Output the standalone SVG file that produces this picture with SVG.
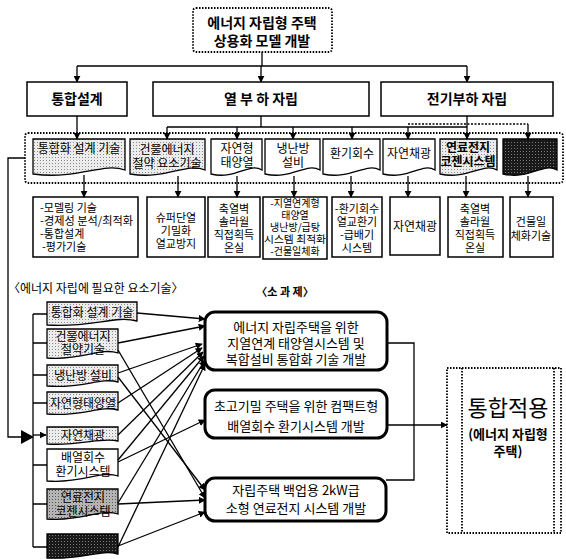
<svg xmlns="http://www.w3.org/2000/svg" width="566" height="559" viewBox="0 0 566 559">
<defs>
<pattern id="dotL" width="3" height="3" patternUnits="userSpaceOnUse"><rect width="3" height="3" fill="#ececec"/><rect x="1" y="1" width="1" height="1" fill="#8a8a8a"/></pattern>
<pattern id="dotM" width="3" height="3" patternUnits="userSpaceOnUse"><rect width="3" height="3" fill="#b4b4b4"/><rect x="1" y="1" width="1" height="1" fill="#555"/></pattern>
<pattern id="dotD" width="3" height="3" patternUnits="userSpaceOnUse"><rect width="3" height="3" fill="#1a1a1a"/><rect x="1" y="1" width="1" height="1" fill="#777"/></pattern>
<marker id="ah" viewBox="0 0 10 10" refX="9" refY="5" markerWidth="7" markerHeight="7" markerUnits="userSpaceOnUse" orient="auto"><path d="M0,0 L10,5 L0,10 Z" fill="#000"/></marker>
</defs>
<style>
text{font-family:"Noto Sans CJK KR","Noto Sans",sans-serif;fill:#000}
.t{font-size:14px;font-weight:bold;text-anchor:middle}
.m{font-size:12px;text-anchor:middle}
.d{font-size:11px;text-anchor:middle}
.dl{font-size:11px;text-anchor:start}
.s{font-size:10px;text-anchor:middle}
.tk{font-size:13px;text-anchor:middle}
.box{fill:#fff;stroke:#000;stroke-width:1.5}
.doc{stroke:#000;stroke-width:1.3}
.task{fill:#fff;stroke:#000;stroke-width:3}
.dot{fill:none;stroke:#000;stroke-width:1.8;stroke-dasharray:1.5 1.5}
.c{fill:none;stroke:#000;stroke-width:1.3}
.a{fill:none;stroke:#000;stroke-width:1.3;marker-end:url(#ah)}
</style>
<rect width="566" height="559" fill="#fff"/>

<g id="title"><rect class="dot" x="193" y="8" width="139" height="44" rx="3"/><text class="t" x="262" y="28">에너지 자립형 주택</text><text class="t" x="262" y="46">상용화 모델 개발</text></g>

<g id="top-integrated"><rect class="box" x="27" y="82" width="100" height="34"/><text class="t" x="77" y="104">통합설계</text></g>
<g id="top-heat"><rect class="box" x="153" y="82" width="216" height="34"/><text class="t" x="261" y="104">열 부 하 자립</text></g>
<g id="top-elec"><rect class="box" x="381" y="82" width="172" height="34"/><text class="t" x="467" y="104">전기부하 자립</text></g>

<g id="container"><rect class="dot" x="25" y="133" width="538" height="50" rx="3" stroke-width="1.5"/></g>

<g id="s1"><path class="doc" fill="url(#dotL)" d="M33,139 H125 V170 C102,162 79,180 33,174 Z"/><text class="m" x="79" y="153">통합화 설계 기술</text></g>
<g id="s2"><path class="doc" fill="url(#dotL)" d="M130,139 H205 V170 C186,162 167,180 130,174 Z"/><text class="m" x="167" y="154">건물에너지</text><text class="m" x="167" y="168">절약 요소기술</text></g>
<g id="s3"><path class="doc" fill="#fff" d="M211,139 H262 V170 C249,162 236,180 211,174 Z"/><text class="m" x="237" y="153">자연형</text><text class="m" x="237" y="167">태양열</text></g>
<g id="s4"><path class="doc" fill="#fff" d="M265,139 H320 V170 C306,162 292,180 265,174 Z"/><text class="m" x="293" y="153">냉난방</text><text class="m" x="293" y="167">설비</text></g>
<g id="s5"><path class="doc" fill="#fff" d="M323,139 H380 V170 C366,162 351,180 323,174 Z"/><text class="m" x="352" y="158">환기회수</text></g>
<g id="s6"><path class="doc" fill="#fff" d="M383,139 H435 V170 C422,162 409,180 383,174 Z"/><text class="m" x="409" y="158">자연채광</text></g>
<g id="s7"><path class="doc" fill="url(#dotL)" d="M440,139 H497 V170 C483,162 468,180 440,174 Z"/><text class="m" x="468" y="152" font-weight="bold">연료전지</text><text class="m" x="468" y="166" font-weight="bold">코젠시스템</text></g>
<g id="s8"><path class="doc" fill="url(#dotD)" d="M503,139 H557 V170 C543,162 530,180 503,174 Z"/></g>

<g id="d1"><rect class="box" x="33" y="197" width="105" height="60"/><text class="dl" x="40" y="212">-모델링 기술</text><text class="dl" x="40" y="225" textLength="93" lengthAdjust="spacingAndGlyphs">-경제성 분석/최적화</text><text class="dl" x="40" y="238">-통합설계</text><text class="dl" x="42" y="251">-평가기술</text></g>
<g id="d2"><rect class="box" x="147" y="197" width="58" height="60"/><text class="d" x="176" y="222">슈퍼단열</text><text class="d" x="176" y="235">기밀화</text><text class="d" x="176" y="248">열교방지</text></g>
<g id="d3"><rect class="box" x="208" y="197" width="52" height="60"/><text class="d" x="234" y="213">축열벽</text><text class="d" x="234" y="226">솔라월</text><text class="d" x="234" y="239">직접획득</text><text class="d" x="234" y="252">온실</text></g>
<g id="d4"><rect class="box" x="263" y="197" width="64" height="62"/><text class="s" x="295" y="207">-지열연계형</text><text class="s" x="295" y="219">태양열</text><text class="s" x="295" y="231">냉난방/급탕</text><text class="s" x="295" y="243" textLength="62" lengthAdjust="spacingAndGlyphs">시스템 최적화</text><text class="s" x="295" y="255">-건물일체화</text></g>
<g id="d5"><rect class="box" x="332" y="197" width="50" height="60"/><text class="d" x="357" y="213">-환기회수</text><text class="d" x="357" y="226">열교환기</text><text class="d" x="357" y="239">-급배기</text><text class="d" x="357" y="252">시스템</text></g>
<g id="d6"><rect class="box" x="390" y="197" width="50" height="58"/><text class="m" x="415" y="231">자연채광</text></g>
<g id="d7"><rect class="box" x="448" y="197" width="55" height="60"/><text class="d" x="475" y="213">축열벽</text><text class="d" x="475" y="226">솔라월</text><text class="d" x="475" y="239">직접획득</text><text class="d" x="475" y="252">온실</text></g>
<g id="d8"><rect class="box" x="510" y="197" width="43" height="60"/><text class="d" x="531" y="226">건물일</text><text class="d" x="531" y="240">체화기술</text></g>

<text id="h-left" x="8" y="293" font-size="12">〈에너지 자립에 필요한 요소기술〉</text>
<text id="h-task" x="285" y="296" font-size="11" font-weight="bold" text-anchor="middle">〈소 과 제〉</text>

<g id="l1"><path class="doc" fill="url(#dotL)" d="M47,302 H137 V321 C115,315 92,328 47,325 Z"/><text class="m" x="92" y="317">통합화 설계 기술</text></g>
<g id="l2"><path class="doc" fill="url(#dotL)" d="M47,329 H118 V353 C100,347 83,361 47,358 Z"/><text class="m" x="83" y="341">건물에너지</text><text class="m" x="83" y="354">절약기술</text></g>
<g id="l3"><path class="doc" fill="url(#dotL)" d="M47,365 H118 V382 C100,377 83,389 47,386 Z"/><text class="m" x="83" y="380">냉난방 설비</text></g>
<g id="l4"><path class="doc" fill="url(#dotL)" d="M47,392 H118 V410 C100,405 83,417 47,414 Z"/><text class="m" x="83" y="408">자연형태양열</text></g>
<g id="l5"><path class="doc" fill="url(#dotL)" d="M47,427 H118 V441 C100,437 83,446 47,444 Z"/><text class="m" x="83" y="440">자연채광</text></g>
<g id="l6"><path class="doc" fill="#fff" d="M47,449 H118 V476 C100,470 83,484 47,481 Z"/><text class="m" x="83" y="462">배열회수</text><text class="m" x="83" y="476">환기시스템</text></g>
<g id="l7"><path class="doc" fill="url(#dotM)" d="M47,489 H118 V514 C100,508 83,522 47,519 Z"/><text class="m" x="83" y="502">연료전지</text><text class="m" x="83" y="516">코젠시스템</text></g>
<g id="l8"><path class="doc" fill="url(#dotD)" d="M47,534 H118 V554 C100,549 83,560 47,558 Z"/></g>

<g id="taskA"><rect class="task" x="205" y="312" width="182" height="58" rx="10"/><text class="tk" x="296" y="332">에너지 자립주택을 위한</text><text class="tk" x="296" y="348">지열연계 태양열시스템 및</text><text class="tk" x="296" y="364">복합설비 통합화 기술 개발</text></g>
<g id="taskB"><rect class="task" x="205" y="390" width="182" height="48" rx="10"/><text class="tk" x="296" y="411">초고기밀 주택을 위한 컴팩트형</text><text class="tk" x="296" y="431">배열회수 환기시스템 개발</text></g>
<g id="taskC"><rect class="task" x="205" y="478" width="181" height="43" rx="10"/><text class="tk" x="296" y="495">자립주택 백업용 2kW급</text><text class="tk" x="296" y="513">소형 연료전지 시스템 개발</text></g>

<g id="result"><rect class="dot" x="447" y="368" width="114" height="165" stroke-width="1.5"/><line class="dot" x1="462" y1="368" x2="462" y2="533" stroke-width="1.5"/><line class="dot" x1="554" y1="368" x2="554" y2="533" stroke-width="1.5"/><text x="508" y="416" font-size="22" text-anchor="middle">통합적용</text><text x="508" y="439" font-size="13" font-weight="bold" text-anchor="middle">(에너지 자립형</text><text x="508" y="456" font-size="13" font-weight="bold" text-anchor="middle">주택)</text></g>

<g id="connectors">
<path class="c" d="M262,52 V66 M77,66 H467"/>
<path class="a" d="M77,66 V82"/><path class="a" d="M261,66 V82"/><path class="a" d="M467,66 V82"/>
<path class="a" d="M77,116 V139"/>
<path class="c" d="M261,116 V127 M167,127 H467 M467,116 V127"/>
<path class="c" d="M408,124 H528" stroke-dasharray="2 1.5" stroke-width="1"/>
<path class="a" d="M167,127 V139"/><path class="a" d="M237,127 V139"/><path class="a" d="M293,127 V139"/><path class="a" d="M352,127 V139"/><path class="a" d="M408,127 V139"/><path class="a" d="M467,127 V139"/><path class="a" d="M528,124 V139"/>
<path class="a" d="M84,175 V197"/><path class="a" d="M178,176 V197"/><path class="a" d="M237,176 V197"/><path class="a" d="M294,176 V197"/><path class="a" d="M351,176 V197"/><path class="a" d="M408,176 V197"/><path class="a" d="M466,176 V197"/><path class="a" d="M528,176 V197"/>
<path class="c" d="M25,158 H8 V437 H22"/>
<path d="M21,430 L34,437 L21,444 Z" fill="#000"/>
<path class="c" d="M33,314 V547"/>
<path class="c" d="M33,314 H47 M33,343 H47 M33,375 H47 M33,403 H47 M33,465 H47 M33,504 H47 M33,547 H47"/>
<path class="a" d="M33,435 H46"/>
<path class="a" d="M137,313 L205,319"/>
<path class="a" d="M118,343 L205,326"/>
<path class="a" d="M118,373 L202,344"/>
<path class="a" d="M118,403 L202,348"/>
<path class="a" d="M118,435 L203,352"/>
<path class="a" d="M118,460 L204,356"/>
<path class="a" d="M118,503 L205,360"/>
<path class="a" d="M118,547 L205,364"/>
<path class="a" d="M118,462 L205,420"/>
<path class="a" d="M118,377 L205,490"/>
<path class="a" d="M118,350 L205,498"/>
<path class="a" d="M118,504 L205,500"/>
<path class="a" d="M118,546 L205,512"/>
<path class="c" d="M387,343 H414 V480 H386"/>
<path class="a" d="M387,425 H447"/>
</g>
</svg>
